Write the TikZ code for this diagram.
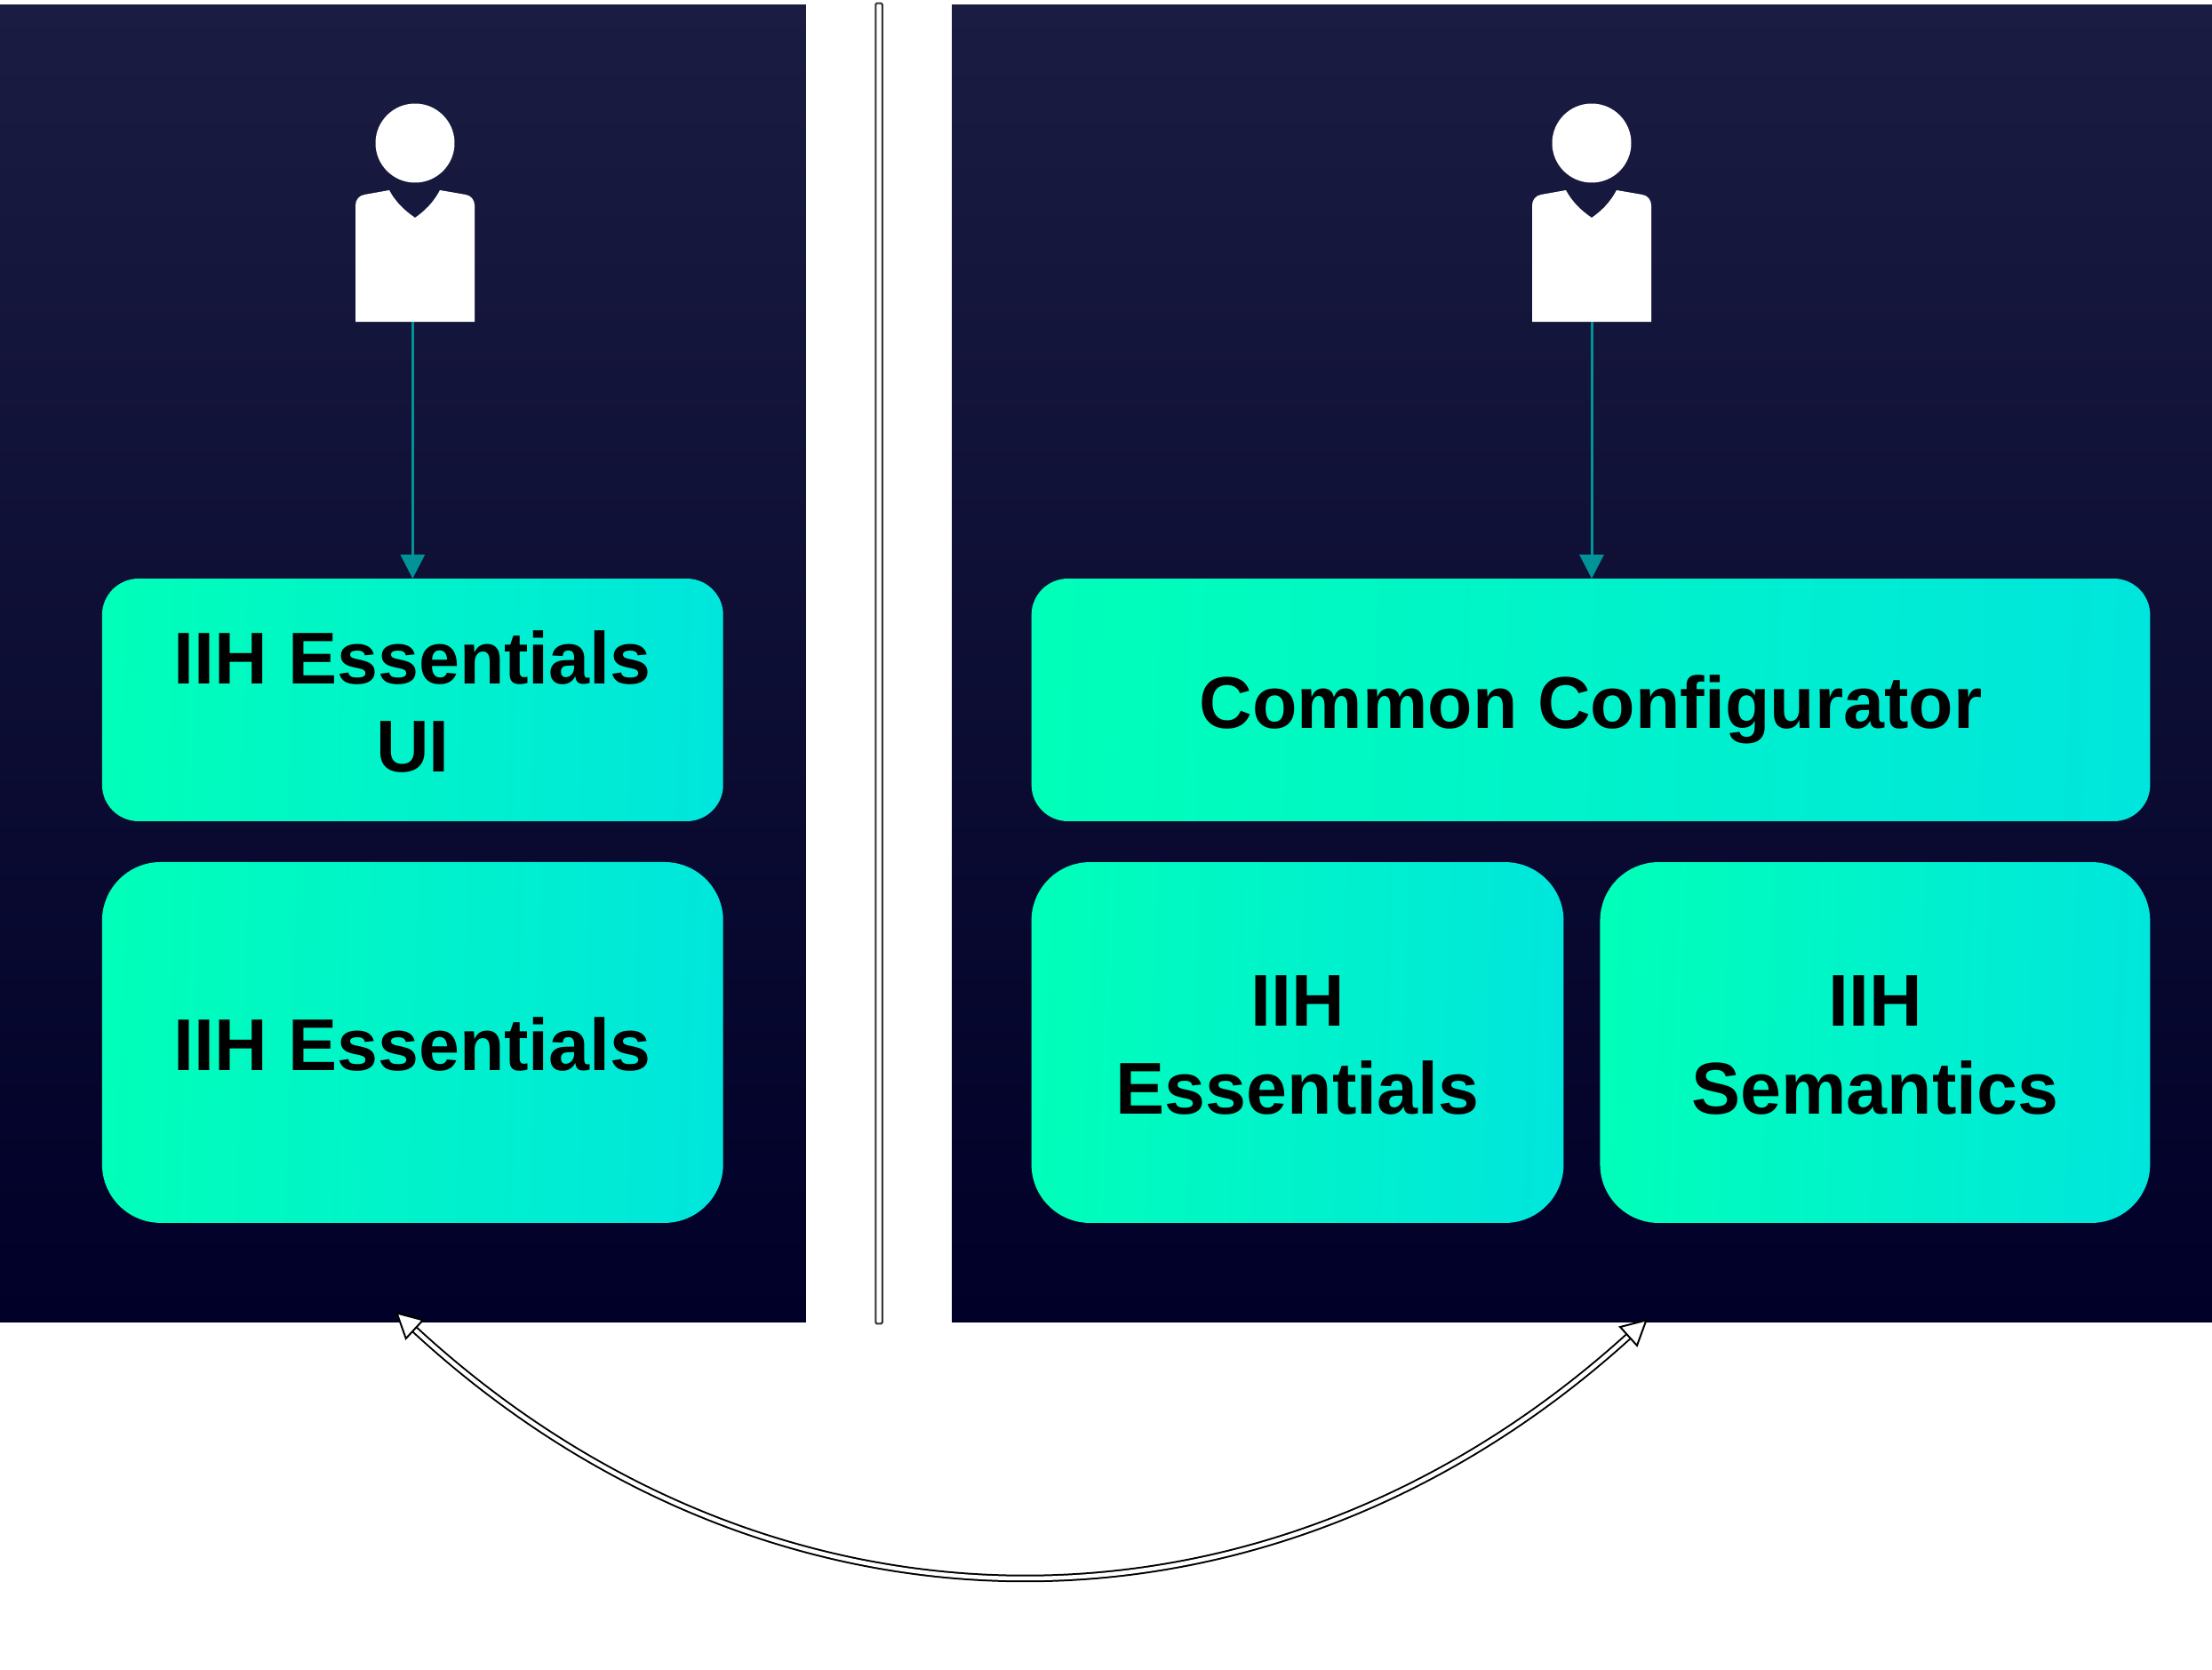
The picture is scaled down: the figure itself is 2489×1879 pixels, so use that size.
\documentclass[tikz,border=0pt]{standalone}
\usepackage{fontspec}
\setmainfont{Liberation Sans}
\usetikzlibrary{arrows.meta, positioning, calc}

\definecolor{paneltop}{HTML}{1B1C41}
\definecolor{panelbottom}{HTML}{000028}
\definecolor{modleft}{HTML}{00FFB9}
\definecolor{modright}{HTML}{00E6DC}
\definecolor{flowteal}{HTML}{009499}

\tikzset{
  pics/person/.style={code={
    \fill[white] (0,0) circle [radius=0.89cm];
    \fill[white] (-29,53) -- (-57,58) .. controls (-63,59) and (-67,64) .. (-67,70)
      -- (-67,201) -- (67,201) -- (67,70) .. controls (67,64) and (63,59) .. (57,58)
      -- (28,53) .. controls (20,68) and (10,77) .. (0,84)
      .. controls (-10,77) and (-21,68) .. cycle;
    \coordinate (-foot) at (0,201);
  }}
}

\begin{document}
\begin{tikzpicture}[
  x=0.02cm, y=-0.02cm,
  panel/.style={rectangle, minimum height=29.66cm, inner sep=0pt, outer sep=0pt, top color=paneltop, bottom color=panelbottom},
  modbox/.style={rectangle, inner sep=0pt, outer sep=0pt, align=center, text=black, text depth=0pt, text height=36pt, left color=modleft, right color=modright, shading angle=88, font=\fontsize{47}{56.3}\selectfont\bfseries},
  modtop/.style={modbox, minimum height=5.46cm, rounded corners=0.82cm},
  modbottom/.style={modbox, minimum height=8.12cm, rounded corners=1.32cm},
  twolines/.style={text height=92pt},
  divider/.style={rectangle, draw=black!80, fill=white, line width=0.04cm, minimum width=0.15cm, minimum height=29.72cm, inner sep=0pt, rounded corners=0.03cm},
  flow/.style={-{Triangle[length=0.54cm, width=0.54cm]}, line width=0.06cm, flowteal},
  syncflow/.style={{Triangle[length=0.6cm, width=0.62cm, fill=white]}-{Triangle[length=0.6cm, width=0.62cm, fill=white]}, double=white, double distance=0.09cm, line width=0.04cm, black}
]
\useasboundingbox (0,0) rectangle (2489,1879);

\node[panel, minimum width=18.14cm] (PanelL) at (453.5,746.5) {};
\node[panel, minimum width=28.36cm] (PanelR) at (1780,746.5) {};
\node[divider] (Divider) at (989,746.5) {};

\pic (PersonL) at (467,161) {person};
\pic (PersonR) at (1791,161) {person};

\node[modtop, twolines, minimum width=13.98cm] (EssUI) at (464.3,787.5) {IIH Essentials\\UI};
\node[modbottom, minimum width=13.98cm] (Ess) [below=0.92cm of EssUI] {IIH Essentials};

\node[modtop, minimum width=25.18cm] (Common) at (1790,787.5) {Common Configurator};
\node[modbottom, twolines, minimum width=11.98cm] (EssR) at (1460,1173) {IIH\\Essentials};
\node[modbottom, twolines, minimum width=12.38cm] (SemR) [right=0.82cm of EssR] {IIH\\Semantics};

\coordinate (SyncL) at (445,1476);
\coordinate (SyncR) at (1854,1484);

\draw[flow] (EssUI.north |- PersonL-foot) -- (EssUI.north);
\draw[flow] (PersonR-foot) -- (PersonR-foot |- Common.north);

% sync between the two set-ups
\draw[syncflow] (SyncL) .. controls (870,1868) and (1430,1868) .. (SyncR);
\end{tikzpicture}
\end{document}
